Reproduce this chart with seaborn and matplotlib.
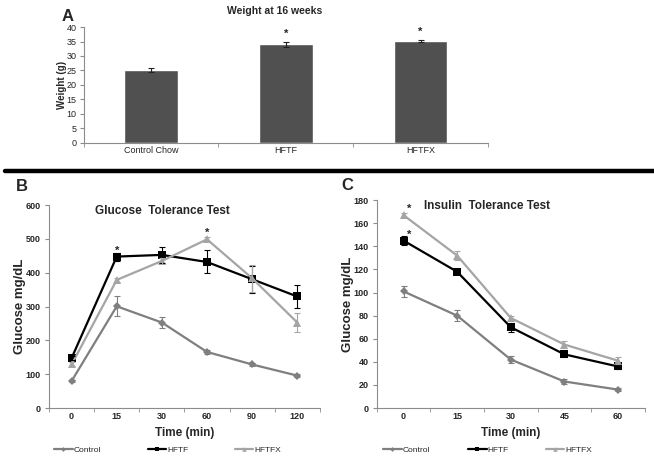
import numpy as np
import pandas as pd
import matplotlib
matplotlib.use("Agg")
import matplotlib.pyplot as plt
import seaborn as sns

# Panel A: weight at 16 weeks
diet_groups = ["Control Chow", "HFTF", "HFTFX"]
weight_mean = [25.3, 34.0, 35.1]
weight_err = [0.7, 0.8, 0.4]
weight_sig = [False, True, True]

# Panel B: glucose tolerance test
gtt_times = ["0", "15", "30", "60", "90", "120"]
gtt_control = [80, 301, 253, 166, 129, 96]
gtt_control_err = [4, 29, 17, 5, 4, 5]
gtt_hftf = [148, 448, 453, 432, 381, 330]
gtt_hftf_err = [5, 12, 24, 34, 40, 34]
gtt_hftfx = [129, 379, 435, 499, 384, 253]
gtt_hftfx_err = [6, 5, 8, 6, 40, 28]
gtt_sig = {"HFTF": [1], "HFTFX": [3]}

# Panel C: insulin tolerance test
itt_times = ["0", "15", "30", "45", "60"]
itt_control = [101, 80, 42, 23, 16]
itt_control_err = [5, 4.5, 3, 2.5, 1]
itt_hftf = [145, 118, 70, 46.5, 36]
itt_hftf_err = [4, 2, 4, 2, 2]
itt_hftfx = [167, 132, 78, 55, 41]
itt_hftfx_err = [2, 4, 2, 3, 3]
itt_sig = {"HFTF": [0], "HFTFX": [0]}

group_names = ["Control", "HFTF", "HFTFX"]
colors = {"Control": "#7f7f7f", "HFTF": "#000000", "HFTFX": "#a5a5a5"}
markers = {"Control": "D", "HFTF": "s", "HFTFX": "^"}
msizes = {"Control": 4, "HFTF": 6, "HFTFX": 5.5}

sns.set_style("white")
plt.rcParams["font.family"] = ["Liberation Sans", "DejaVu Sans"]
axis_gray = "#8c8c8c"

fig = plt.figure(figsize=(6.54, 4.58), dpi=100)


def style_axes(ax):
    for side in ["top", "right"]:
        ax.spines[side].set_visible(False)
    for side in ["left", "bottom"]:
        ax.spines[side].set_color(axis_gray)
        ax.spines[side].set_linewidth(0.8)
    ax.tick_params(axis="y", which="major", length=3, color=axis_gray, direction="out", left=True)
    ax.tick_params(axis="x", which="major", length=0)
    ax.tick_params(axis="x", which="minor", length=3, color=axis_gray, direction="out", bottom=True)


# ---- Panel A ----
axA = fig.add_axes([0.128, 0.688, 0.618, 0.253])
dfA = pd.DataFrame({"group": diet_groups, "weight": weight_mean})
sns.barplot(data=dfA, x="group", y="weight", color="#505050", width=0.4,
            saturation=1, errorbar=None, ax=axA)
xa = np.arange(len(diet_groups))
axA.errorbar(xa, weight_mean, yerr=weight_err, fmt="none", ecolor="#222222",
             elinewidth=0.8, capsize=2, capthick=0.8)
for i, s in enumerate(weight_sig):
    if s:
        axA.text(xa[i], weight_mean[i] + weight_err[i] + 1.2, "*", ha="center",
                 va="bottom", fontsize=8, fontweight="bold")
axA.set_xlim(-0.5, 2.5)
axA.set_ylim(0, 40)
axA.set_yticks(np.arange(0, 41, 5))
axA.set_xticks(np.arange(-0.5, 3, 1), minor=True)
axA.set_xlabel("")
axA.set_ylabel("Weight (g)", fontsize=7, fontweight="bold", labelpad=0)
axA.tick_params(labelsize=6.5, pad=2)
style_axes(axA)
fig.text(0.42, 0.975, "Weight at 16 weeks", ha="center",
         va="center", fontsize=7.5, fontweight="bold")
fig.text(0.103, 0.965, "A", fontsize=12, fontweight="bold", ha="center", va="center")

# separator line
fig.add_artist(plt.Line2D([0.008, 1.0], [0.627, 0.627], color="black", lw=3.2,
                          transform=fig.transFigure))


def curve_panel(rect, times, series, errs, sig, ymax, ystep, title, title_x, letter, letter_xy,
                ylabel_x, legend_x):
    ax = fig.add_axes(rect)
    pos = np.arange(len(times))
    rows = []
    for g in group_names:
        for p, v in zip(pos, series[g]):
            rows.append({"pos": p, "value": v, "group": g})
    df = pd.DataFrame(rows)
    sns.lineplot(data=df, x="pos", y="value", hue="group", style="group",
                 palette=colors, markers=markers, dashes=False, linewidth=1.6,
                 markeredgewidth=0, legend=False, ax=ax)
    for g in group_names:
        ax.errorbar(pos, series[g], yerr=errs[g], fmt="none", ecolor=colors[g],
                    elinewidth=0.8, capsize=2, capthick=0.8)
    for k, line in enumerate(ax.lines[:3]):
        line.set_markersize(msizes[group_names[k]])
    for g, idx in sig.items():
        for i in idx:
            off = 0.1 if letter == "C" else 0
            ax.text(pos[i] + off, series[g][i] + ymax * 0.005, "*", ha="center",
                    va="bottom", fontsize=8, fontweight="bold")
    ax.set_xlim(-0.5, len(times) - 0.5)
    ax.set_ylim(0, ymax)
    ax.set_yticks(np.arange(0, ymax + 1, ystep))
    ax.set_xticks(pos)
    ax.set_xticklabels(times)
    ax.set_xticks(np.arange(-0.5, len(times), 1), minor=True)
    ax.set_xlabel("Time (min)", fontsize=8.5, fontweight="bold", labelpad=4)
    ax.set_ylabel("")
    ax.tick_params(labelsize=6.5, pad=3)
    for lab in ax.get_xticklabels() + ax.get_yticklabels():
        lab.set_fontweight("bold")
    style_axes(ax)
    ax.text(title_x, 0.97, title, transform=ax.transAxes, ha="center", va="center",
            fontsize=8.5, fontweight="bold")
    fig.text(letter_xy[0], letter_xy[1], letter, fontsize=12, fontweight="bold",
             ha="center", va="center")
    fig.text(ylabel_x, rect[1] + rect[3] / 2, "Glucose mg/dL", rotation=90, ha="center",
             va="center", fontsize=9.5, fontweight="bold")
    # legend under the axis, one entry per group
    for g, lx in zip(group_names, legend_x):
        h = plt.Line2D([], [], color=colors[g], marker=markers[g], lw=1.6,
                       markersize=msizes[g] * 0.6, markeredgewidth=0)
        fig.legend([h], [g], loc="center left", bbox_to_anchor=(lx, 0.017),
                   frameon=False, fontsize=6, handlelength=2.2, handletextpad=0.1,
                   borderaxespad=0, borderpad=0)
    return ax


gtt_series = {"Control": gtt_control, "HFTF": gtt_hftf, "HFTFX": gtt_hftfx}
gtt_errs = {"Control": gtt_control_err, "HFTF": gtt_hftf_err, "HFTFX": gtt_hftfx_err}
curve_panel([0.075, 0.109, 0.414, 0.443], gtt_times, gtt_series, gtt_errs, gtt_sig,
            600, 100, "Glucose  Tolerance Test", 0.42, "B", (0.033, 0.593), 0.03,
            [0.083, 0.226, 0.359])

itt_series = {"Control": itt_control, "HFTF": itt_hftf, "HFTFX": itt_hftfx}
itt_errs = {"Control": itt_control_err, "HFTF": itt_hftf_err, "HFTFX": itt_hftfx_err}
curve_panel([0.576, 0.109, 0.410, 0.454], itt_times, itt_series, itt_errs, itt_sig,
            180, 20, "Insulin  Tolerance Test", 0.41, "C", (0.531, 0.595), 0.532,
            [0.586, 0.716, 0.835])

fig.savefig("out.png", dpi=100)
